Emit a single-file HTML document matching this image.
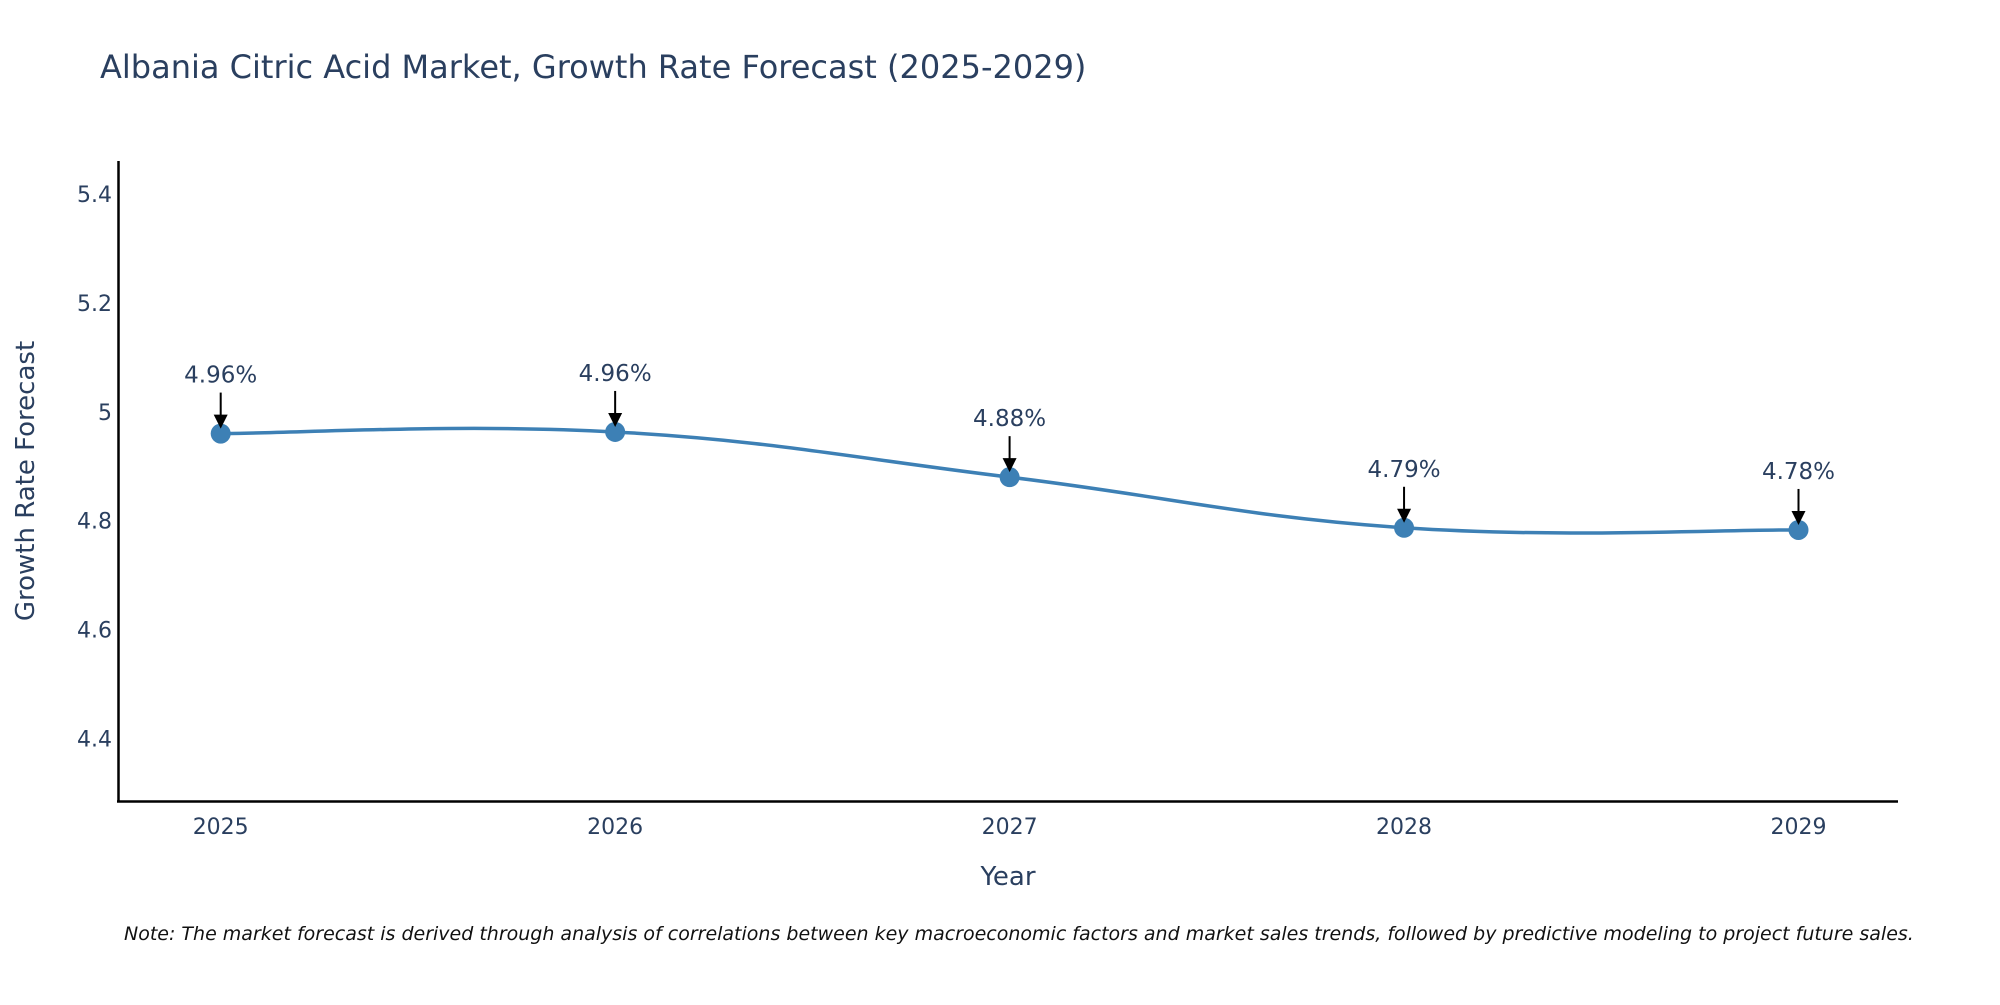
<!DOCTYPE html>
<html><head><meta charset="utf-8"><style>
body{margin:0;background:#fff;}
svg text{font-family:"DejaVu Sans","Liberation Sans",sans-serif;fill:#2a3f5f;}
</style></head><body>
<svg id="chart" width="2000" height="1000" xmlns="http://www.w3.org/2000/svg">
<text x="100" y="78" font-size="32">Albania Citric Acid Market, Growth Rate Forecast (2025-2029)</text>
<g id="yticks"></g>
<g id="xticks"></g>
<line x1="118.5" y1="161" x2="118.5" y2="802" stroke="#000" stroke-width="2.5"/>
<line x1="117" y1="801.5" x2="1898" y2="801.5" stroke="#000" stroke-width="2.5"/>
<path id="line" fill="none" stroke="#3d80b5" stroke-width="3.5"/>
<g id="marks"></g>
<text x="1008" y="885" font-size="26" text-anchor="middle">Year</text>
<text transform="translate(34,481) rotate(-90)" font-size="26" text-anchor="middle">Growth Rate Forecast</text>
<text x="124" y="940" font-size="19" font-style="italic" style="fill:#111">Note: The market forecast is derived through analysis of correlations between key macroeconomic factors and market sales trends, followed by predictive modeling to project future sales.</text>
</svg>
<script>
const years = [2025, 2026, 2027, 2028, 2029];
const values = [4.96, 4.963, 4.88, 4.787, 4.783];
const labels = ["4.96%", "4.96%", "4.88%", "4.79%", "4.78%"];
const yTicks = [4.4, 4.6, 4.8, 5, 5.2, 5.4];
const yTickLabels = ["4.4", "4.6", "4.8", "5", "5.2", "5.4"];
const NS = "http://www.w3.org/2000/svg";
function xs(v){return 220.7 + (v-2025)*394.45;}
function ys(v){return 738.5 - (v-4.4)*544.5;}
function mk(tag, attrs, parent){const e=document.createElementNS(NS,tag);for(const k in attrs)e.setAttribute(k,attrs[k]);parent.appendChild(e);return e;}
const yg=document.getElementById('yticks');
yTicks.forEach((t,i)=>{const e=mk('text',{x:112,y:ys(t)+8,'font-size':'22','text-anchor':'end'},yg);e.textContent=yTickLabels[i];

});
const xg=document.getElementById('xticks');
years.forEach(y=>{const e=mk('text',{x:xs(y),y:834,'font-size':'22','text-anchor':'middle'},xg);e.textContent=y;

});
const pts=years.map((y,i)=>[xs(y),ys(values[i])]);
let d='M'+pts[0][0]+','+pts[0][1];
for(let i=0;i<pts.length-1;i++){
 const p0=pts[Math.max(0,i-1)],p1=pts[i],p2=pts[i+1],p3=pts[Math.min(pts.length-1,i+2)];
 const t=0.2;
 const c1=[p1[0]+(p2[0]-p0[0])*t,p1[1]+(p2[1]-p0[1])*t];
 const c2=[p2[0]-(p3[0]-p1[0])*t,p2[1]-(p3[1]-p1[1])*t];
 d+=' C'+c1+' '+c2+' '+p2;
}
document.getElementById('line').setAttribute('d',d);
const mg=document.getElementById('marks');
pts.forEach((p,i)=>{
 const c=mk('circle',{cx:p[0],cy:p[1],r:10,fill:'#3d80b5'},mg);
 
 
 const l=mk('line',{x1:p[0],y1:p[1]-41,x2:p[0],y2:p[1]-18,stroke:'#000','stroke-width':2},mg);
 
 
 const h=mk('path',{d:`M${p[0]-7},${p[1]-19} L${p[0]+7},${p[1]-19} L${p[0]},${p[1]-5} Z`,fill:'#000'},mg);
 
 
 const t=mk('text',{x:p[0],y:p[1]-51,'font-size':'23','text-anchor':'middle'},mg);
 t.textContent=labels[i];
 
 
});
</script>
</body></html>
